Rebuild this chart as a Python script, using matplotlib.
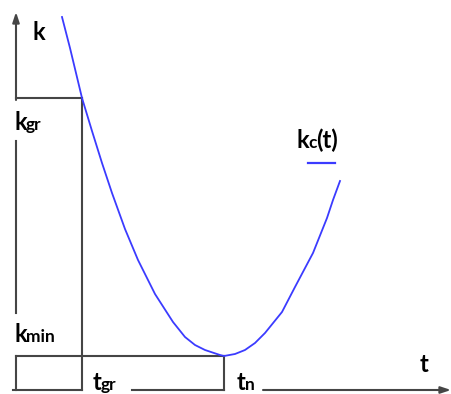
import numpy as np
import matplotlib.pyplot as plt

# curve k_c(t) (t to the right, k upward from the axis corner)
t_curve = [46, 54, 66, 76, 86, 96, 109, 122, 139, 157, 169, 179, 189, 204,
           208, 219, 229, 239, 249, 266, 279, 297, 311, 317, 324]
k_curve = [373, 342, 292, 259, 227, 197, 161, 130, 96, 68, 53, 45, 40, 35,
           34, 36, 40, 47, 57, 78, 103, 137, 172, 190, 209]

t_gr, k_gr = 66, 292
t_n, k_min = 208, 34

line_col = '#454545'
curve_col = '#3b3bff'
font = 'Lato'

fig = plt.figure(figsize=(4.51, 3.94), dpi=100)
ax = fig.add_axes([0, 0, 1, 1])
ax.set_xlim(-16, 435)
ax.set_ylim(-4, 390)
ax.axis('off')

arrow = dict(arrowstyle='-|>,head_length=0.6,head_width=0.2',
             color=line_col, lw=1.5, shrinkA=0, shrinkB=0)

# k axis, broken where the labels sit
ax.plot([0, 0], [0, k_min], color=line_col, lw=1.5)
ax.plot([0, 0], [77, 249], color=line_col, lw=1.5)
ax.annotate('', xy=(0, 378), xytext=(0, 290), arrowprops=arrow)

# t axis, broken where the labels sit
ax.plot([-3, t_gr], [0, 0], color=line_col, lw=1.5)
ax.plot([116, t_n], [0, 0], color=line_col, lw=1.5)
ax.annotate('', xy=(435, 0), xytext=(247, 0), arrowprops=arrow)

# guide lines for k_gr / t_gr and k_min / t_n
ax.plot([0, t_gr], [k_gr, k_gr], color=line_col, lw=1.5)
ax.plot([t_gr, t_gr], [k_gr, 0], color=line_col, lw=1.5)
ax.plot([0, t_n], [k_min, k_min], color=line_col, lw=1.5)
ax.plot([t_n, t_n], [k_min, 0], color=line_col, lw=1.5)

ax.plot(t_curve, k_curve, color=curve_col, lw=1.3, solid_joinstyle='round')

# legend-like sample line under kc(t)
ax.plot([292, 319], [227, 227], color=curve_col, lw=1.6)

big = dict(fontsize=17, fontweight='bold', family=font, va='baseline', ha='left')
small = dict(fontsize=12.5, fontweight='bold', family=font, va='baseline', ha='left')

ax.text(17, 350, 'k', **big)
ax.text(-2, 260, 'k', **big)
ax.text(10, 260, 'gr', **small)
ax.text(-2, 48, 'k', **big)
ax.text(10, 48, 'min', **small)
ax.text(77, 0, 't', **big)
ax.text(85, 0, 'gr', **small)
ax.text(221, 0, 't', **big)
ax.text(229, 0, 'n', **small)
ax.text(404, 18, 't', **big)
ax.text(280, 242, 'k', **big)
ax.text(292, 242, 'c', **small)
ax.text(300, 242, '(t)', **big)

fig.savefig('out.png', dpi=100)
